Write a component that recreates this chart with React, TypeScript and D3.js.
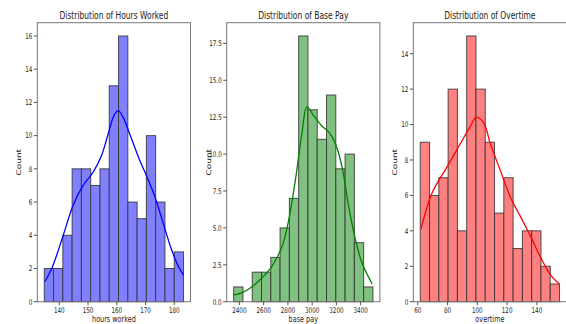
import React from "react";
import * as d3 from "d3";

// histogram counts (15 bins each) and data ranges
const hoursCounts = [2, 2, 4, 8, 8, 7, 8, 13, 16, 6, 5, 10, 6, 2, 3];
const hoursRange = [134.8, 183.2];
const baseCounts = [1, 0, 2, 2, 3, 5, 7, 18, 13, 11, 14, 9, 10, 4, 1];
const baseRange = [2353, 3501];
const overCounts = [9, 6, 7, 12, 4, 15, 12, 9, 5, 7, 3, 4, 4, 2, 1];
const overRange = [61.7, 155.2];

// kde curves, [value, count]
const hoursKde = [
  [135.0, 1.2], [137.4, 2.0], [141.4, 4.0], [144.8, 5.8], [148.3, 7.0],
  [151.8, 7.8], [154.7, 8.8], [157.0, 10.1], [159.0, 11.2], [160.5, 11.5],
  [162.2, 11.1], [164.5, 10.1], [168.0, 8.5], [170.3, 7.6], [173.1, 6.4],
  [176.0, 4.8], [178.9, 3.2], [181.2, 2.2], [183.2, 1.6],
];
const baseKde = [
  [2350, 0.45], [2419, 0.6], [2502, 1.0], [2585, 1.6], [2668, 2.4],
  [2750, 3.7], [2806, 5.5], [2861, 8.2], [2916, 11.4], [2957, 13.2],
  [3012, 12.6], [3081, 11.9], [3137, 11.5], [3192, 10.7], [3247, 9.1],
  [3302, 6.4], [3357, 4.2], [3412, 2.6], [3495, 1.2],
];
const overKde = [
  [62.2, 4.1], [69.4, 6.1], [79.6, 7.6], [88.5, 8.9], [95.3, 9.9],
  [99.3, 10.4], [104.3, 10.1], [108.8, 8.9], [115.5, 7.4], [122.2, 5.9],
  [129, 4.8], [135.7, 3.7], [142.5, 2.5], [149.2, 1.5], [155.2, 1.0],
];

const hoursXTicks = [140, 150, 160, 170, 180];
const hoursYTicks = [0, 2, 4, 6, 8, 10, 12, 14, 16];
const baseXTicks = [2400, 2600, 2800, 3000, 3200, 3400];
const baseYTicks = [0, 2.5, 5, 7.5, 10, 12.5, 15, 17.5];
const overXTicks = [60, 80, 100, 120, 140];
const overYTicks = [0, 2, 4, 6, 8, 10, 12, 14];

const panels = [
  { title: "Distribution of Hours Worked", xlabel: "hours worked", counts: hoursCounts, range: hoursRange, kde: hoursKde, xticks: hoursXTicks, yticks: hoursYTicks, yfmt: (d) => String(d), fill: "#8080ff", line: "#0000ff", left: 37.3 },
  { title: "Distribution of Base Pay", xlabel: "base pay", counts: baseCounts, range: baseRange, kde: baseKde, xticks: baseXTicks, yticks: baseYTicks, yfmt: (d) => d.toFixed(1), fill: "#80c080", line: "#008000", left: 226.7 },
  { title: "Distribution of Overtime", xlabel: "overtime", counts: overCounts, range: overRange, kde: overKde, xticks: overXTicks, yticks: overYTicks, yfmt: (d) => String(d), fill: "#ff8080", line: "#ff0000", left: 413.3 },
];

const W = 566;
const H = 324;
const top = 22.7;
const bottom = 301.7;
const pw = 153.2;
const SX = 0.72; // the figure is squeezed horizontally
const font = "DejaVu Sans, sans-serif";

function T({ x, y, size, anchor = "middle", rotate = 0, children }) {
  const tf = rotate
    ? `translate(${x},${y}) rotate(${rotate}) scale(1,${SX})`
    : `translate(${x},${y}) scale(${SX},1)`;
  return (
    <text transform={tf} fontSize={size} fontFamily={font} textAnchor={anchor} fill="#222">
      {children}
    </text>
  );
}

function Panel({ p }) {
  const [lo, hi] = p.range;
  const pad = (hi - lo) * 0.05;
  const x = d3.scaleLinear().domain([lo - pad, hi + pad]).range([p.left, p.left + pw]);
  const ymax = d3.max(p.counts) * 1.05;
  const y = d3.scaleLinear().domain([0, ymax]).range([bottom, top]);
  const bw = (hi - lo) / p.counts.length;
  const line = d3.line().x((d) => x(d[0])).y((d) => y(d[1])).curve(d3.curveCatmullRom);
  const cx = p.left + pw / 2;

  return (
    <g>
      {p.counts.map((c, i) =>
        c > 0 ? (
          <rect key={i} x={x(lo + i * bw)} y={y(c)} width={x(lo + (i + 1) * bw) - x(lo + i * bw)} height={y(0) - y(c)}
            fill={p.fill} stroke="#333" strokeOpacity={0.85} strokeWidth={1} />
        ) : null
      )}
      <path d={line(p.kde)} fill="none" stroke={p.line} strokeWidth={1.3} />
      <rect x={p.left} y={top} width={pw} height={bottom - top} fill="none" stroke="#777" strokeWidth={1} />
      {p.xticks.map((t) => (
        <g key={t}>
          <line x1={x(t)} x2={x(t)} y1={bottom} y2={bottom + 3.5} stroke="#555" />
          <T x={x(t)} y={312.5} size={7.8}>{t}</T>
        </g>
      ))}
      {p.yticks.map((t) => (
        <g key={t}>
          <line x1={p.left - 3.5} x2={p.left} y1={y(t)} y2={y(t)} stroke="#555" />
          <T x={p.left - 5} y={y(t) + 2.8} size={7.8} anchor="end">{p.yfmt(t)}</T>
        </g>
      ))}
      <T x={cx} y={18.5} size={10.5}>{p.title}</T>
      <T x={cx} y={322} size={9}>{p.xlabel}</T>
      <T x={p.left - 16} y={(top + bottom) / 2} size={9} rotate={-90}>Count</T>
    </g>
  );
}

export default function App() {
  return (
    <svg width={W} height={H} style={{ position: "absolute", left: 0, top: 0, background: "#fff" }}>
      <rect width={W} height={H} fill="#fff" />
      {panels.map((p) => (
        <Panel key={p.title} p={p} />
      ))}
    </svg>
  );
}
